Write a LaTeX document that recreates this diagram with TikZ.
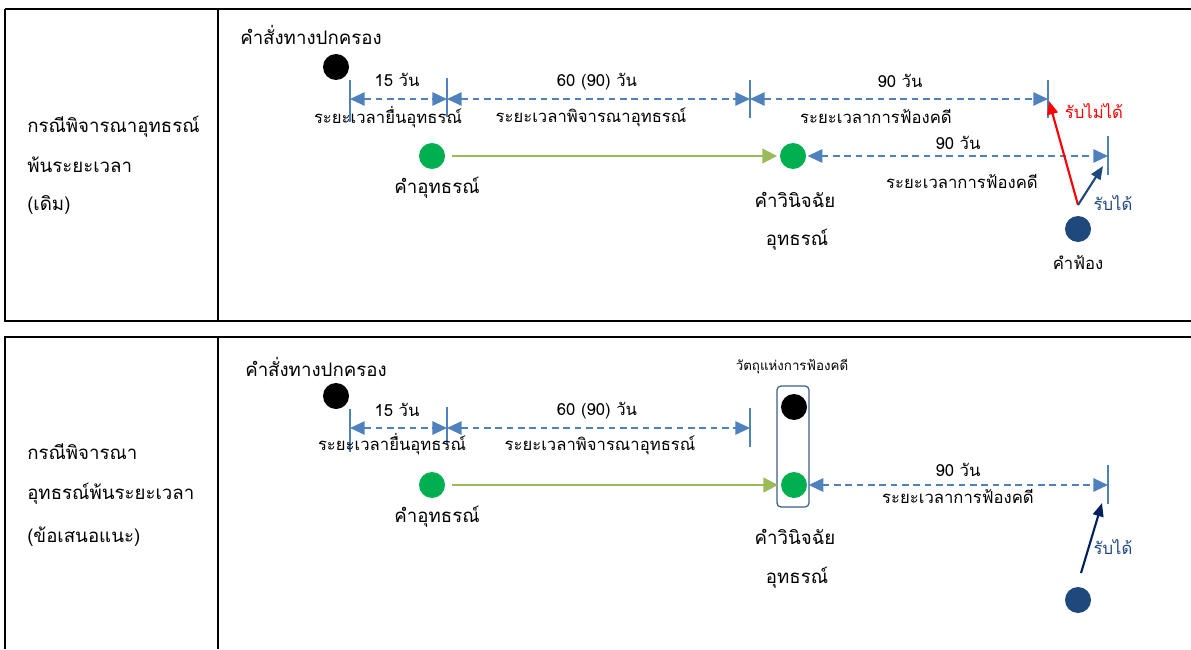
\documentclass[tikz,border=0pt]{standalone}
\usepackage{fontspec}
\setmainfont{Loma}[Script=Thai]
\usetikzlibrary{arrows.meta}

\definecolor{dimblue}{HTML}{4F81BD}
\definecolor{dotgreen}{HTML}{00B050}
\definecolor{linegreen}{HTML}{9BBB59}
\definecolor{suitnavy}{HTML}{1F497D}
\definecolor{darknavy}{HTML}{002060}
\definecolor{boxline}{HTML}{385D8A}

\tikzset{
  frame/.style={line width=2pt, black},
  dot/.style={circle, minimum size=19.5pt, inner sep=0pt},
  tickline/.style={dimblue, line width=1.1pt},
  dimarrow/.style={dimblue, line width=1.4pt, dash pattern=on 5pt off 3.5pt,
    {Triangle[length=11pt, width=10pt]}-{Triangle[length=11pt, width=10pt]}},
  flow/.style={linegreen, line width=1.5pt, -{Triangle[length=11pt, width=11pt]}},
  pointer/.style={line width=1.6pt, -{Triangle[length=10pt, width=8pt]}},
  biglabel/.style={font=\fontsize{16}{19}\selectfont, inner sep=0pt},
  midlabel/.style={font=\fontsize{14}{17}\selectfont, inner sep=0pt},
  smalllabel/.style={font=\fontsize{12.5}{15}\selectfont, inner sep=0pt},
  tinylabel/.style={font=\fontsize{10}{12}\selectfont, inner sep=0pt}
}

\begin{document}
\begin{tikzpicture}[x=0.75pt, y=-0.75pt]
  \useasboundingbox (0,0) rectangle (1191,649);
  % table frame
  \draw[frame] (5,9) -- (1191,9); % top of first row
  \draw[frame] (5,9) -- (5,321) -- (1191,321); % first row
  \draw[frame] (218,9) -- (218,321); % divider, first row
  \draw[frame] (1191,337) -- (5,337) -- (5,649); % second row
  \draw[frame] (218,337) -- (218,649); % divider, second row

  % ---------- first row (old) ----------
  \node[midlabel, anchor=west] (caseA1) at (27,127) {กรณีพิจารณาอุทธรณ์};
  \node[midlabel, anchor=west] (caseA2) at (27,165) {พ้นระยะเวลา};
  \node[midlabel, anchor=west] (caseA3) at (27,205) {(เดิม)};

  \node[midlabel, anchor=west] (orderA) at (240,35) {คำสั่งทางปกครอง};
  \node[dot, fill=black] (adminA) at (336,67) {}; % administrative order

  \draw[tickline] (350,80) -- (350,122);
  \draw[tickline] (447,78) -- (447,117);
  \draw[tickline] (750,80) -- (750,118);
  \draw[tickline] (1048,80) -- (1048,118);
  \coordinate (tA1) at (350,99);
  \coordinate (tA2) at (447,99);
  \coordinate (tA3) at (750,99);
  \coordinate (tA4) at (1048,99);
  \draw[dimarrow] (tA1) -- (tA2);
  \draw[dimarrow] (tA2) -- (tA3);
  \draw[dimarrow] (tA3) -- (tA4);
  \node[smalllabel] (dA1) at (397,80) {15 วัน};
  \node[smalllabel] (pA1) at (388,117) {ระยะเวลายื่นอุทธรณ์};
  \node[smalllabel] (dA2) at (597,82) {60 (90) วัน};
  \node[smalllabel] (pA2) at (591,117) {ระยะเวลาพิจารณาอุทธรณ์};
  \node[smalllabel] (dA3) at (900,81) {90 วัน};
  \node[smalllabel] (pA3) at (876,116) {ระยะเวลาการฟ้องคดี};

  \node[dot, fill=dotgreen] (appealA) at (432,156) {};
  \node[dot, fill=dotgreen] (rulingA) at (793,156) {};
  \draw[flow, shorten <=5pt, shorten >=2pt] (appealA) -- (rulingA);
  \node[midlabel] (appealAl) at (437,188) {คำอุทธรณ์};
  \node[midlabel] (rulingAl) at (795,200) {คำวินิจฉัย};
  \node[midlabel] (rulingAm) at (797,240) {อุทธรณ์};

  \draw[tickline] (1108,136) -- (1108,175);
  \coordinate (tA5) at (1108,156);
  \draw[dimarrow, shorten <=1pt] (rulingA) -- (tA5);
  \node[smalllabel] (dA4) at (958,143) {90 วัน};
  \node[smalllabel] (pA4) at (962,181) {ระยะเวลาการฟ้องคดี};

  \node[dot, fill=suitnavy] (suitA) at (1078,229) {};
  \node[smalllabel] (suitAl) at (1078,263) {คำฟ้อง};
  \coordinate (sA) at (1078,205);
  \coordinate (noA) at (1049,101);
  \coordinate (okA) at (1103,166);
  \draw[pointer, red] (sA) -- (noA);
  \draw[pointer, suitnavy] (sA) -- (okA);
  \node[smalllabel, text=red] (noAl) at (1094,111) {รับไม่ได้};
  \node[smalllabel, text=suitnavy] (okAl) at (1113,203) {รับได้};

  % ---------- second row (proposed) ----------
  \node[midlabel, anchor=west] (caseB1) at (27,452) {กรณีพิจารณา};
  \node[midlabel, anchor=west] (caseB2) at (27,494) {อุทธรณ์พ้นระยะเวลา};
  \node[midlabel, anchor=west] (caseB3) at (27,537) {(ข้อเสนอแนะ)};

  \node[midlabel, anchor=west] (orderB) at (245,367) {คำสั่งทางปกครอง};
  \node[dot, fill=black] (adminB) at (336,396) {};

  \draw[tickline] (350,409) -- (350,452);
  \draw[tickline] (447,407) -- (447,445);
  \draw[tickline] (750,408) -- (750,447);
  \coordinate (tB1) at (350,428);
  \coordinate (tB2) at (447,428);
  \coordinate (tB3) at (750,428);
  \draw[dimarrow] (tB1) -- (tB2);
  \draw[dimarrow] (tB2) -- (tB3);
  \node[smalllabel] (dB1) at (397,410) {15 วัน};
  \node[smalllabel] (pB1) at (392,444) {ระยะเวลายื่นอุทธรณ์};
  \node[smalllabel] (dB2) at (597,411) {60 (90) วัน};
  \node[smalllabel] (pB2) at (600,445) {ระยะเวลาพิจารณาอุทธรณ์};

  \draw[boxline, line width=0.9pt, rounded corners=3pt] (777,386) rectangle (809,507); % subject of the suit
  \node[tinylabel] (subjB) at (792,367) {วัตถุแห่งการฟ้องคดี};
  \node[dot, fill=black] (orderInBox) at (794,407) {};
  \node[dot, fill=dotgreen] (rulingB) at (794,485) {};
  \node[dot, fill=dotgreen] (appealB) at (432,485) {};
  \draw[flow, shorten <=5pt, shorten >=2pt] (appealB) -- (rulingB);
  \node[midlabel] (appealBl) at (437,517) {คำอุทธรณ์};
  \node[midlabel] (rulingBl) at (795,537) {คำวินิจฉัย};
  \node[midlabel] (rulingBm) at (797,578) {อุทธรณ์};

  \draw[tickline] (1108,465) -- (1108,504);
  \coordinate (tB4) at (1108,485);
  \draw[dimarrow, shorten <=1pt] (rulingB) -- (tB4);
  \node[smalllabel] (dB3) at (958,470) {90 วัน};
  \node[smalllabel] (pB3) at (958,496) {ระยะเวลาการฟ้องคดี};

  \node[dot, fill=suitnavy] (suitB) at (1078,600) {};
  \coordinate (sB) at (1081,573);
  \coordinate (okB) at (1102,503);
  \draw[pointer, darknavy] (sB) -- (okB);
  \node[smalllabel, text=suitnavy] (okBl) at (1113,547) {รับได้};
\end{tikzpicture}
\end{document}
